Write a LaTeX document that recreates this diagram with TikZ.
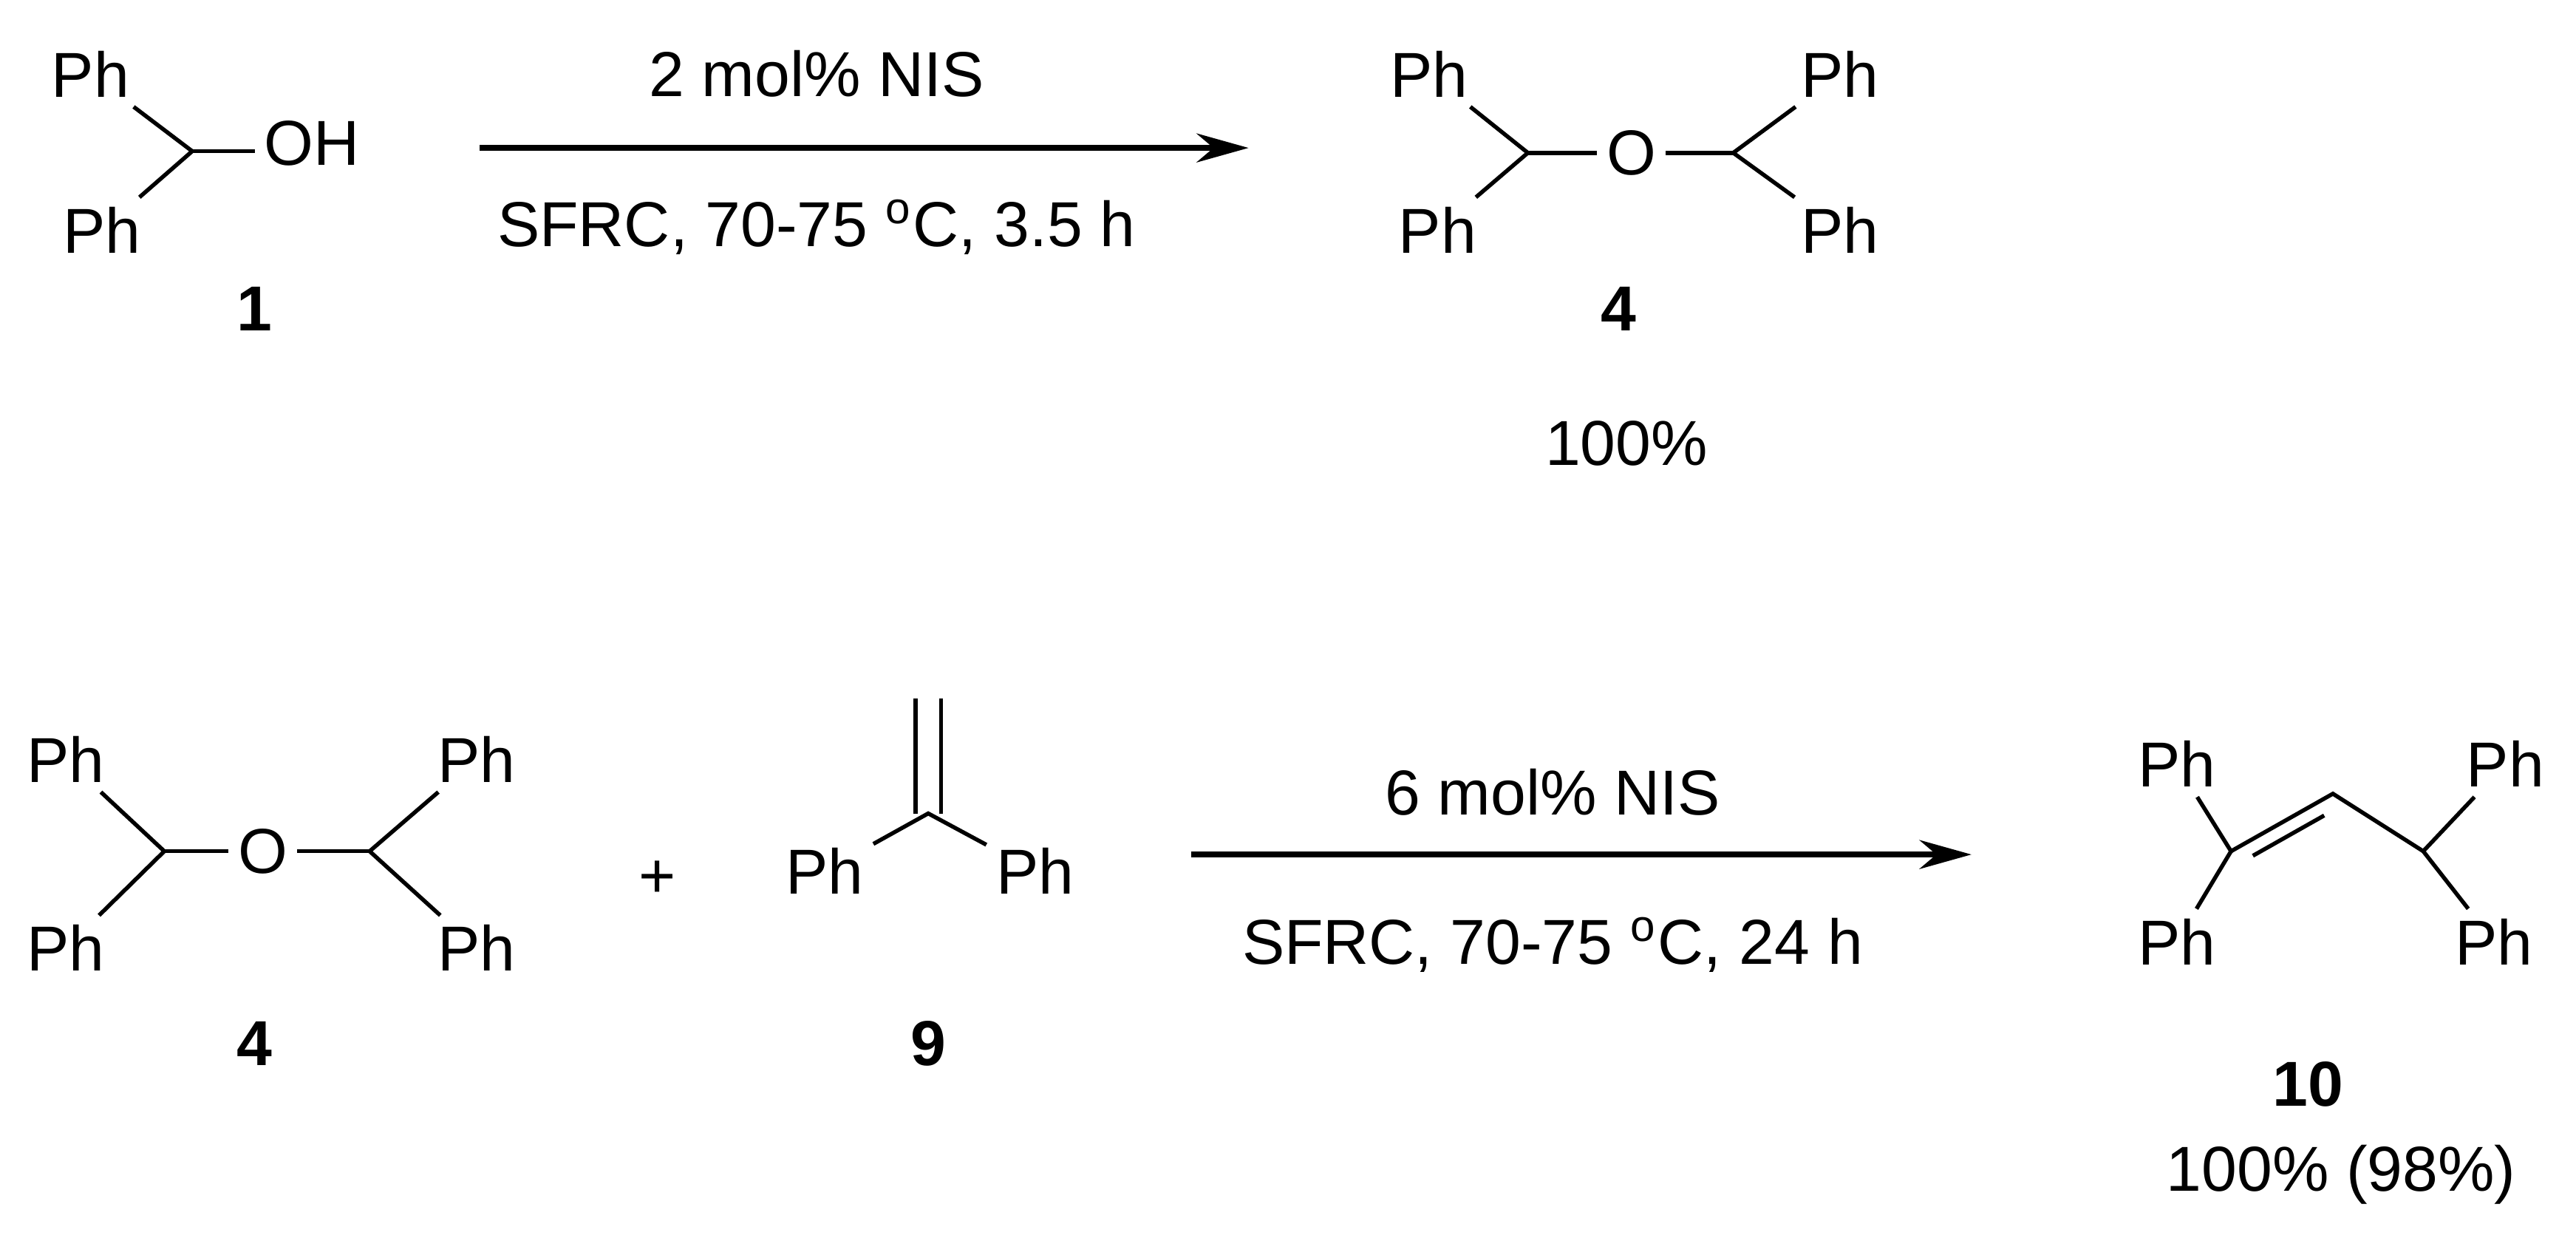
\documentclass[tikz,border=0pt]{standalone}
\usepackage{fontspec}
\setmainfont{Liberation Sans}
\usetikzlibrary{arrows.meta,calc}
\begin{document}
\begin{tikzpicture}[x=1cm,y=1cm,
  every node/.style={font=\fontsize{11pt}{13pt}\selectfont, inner sep=1.5pt},
  lbl/.style={font=\fontsize{11pt}{13pt}\selectfont\bfseries},
  bond/.style={line width=0.7pt},
  rxn/.style={line width=1pt,-{Stealth[length=9pt,width=5pt]}}]
\useasboundingbox (0,0) rectangle (15.68,-7.55);
% compound 1
\coordinate (c1) at (1.17,-0.92);
\node (p1a) at (0.55,-0.45) {Ph};
\node (p1b) at (0.62,-1.40) {Ph};
\node (oh) at (1.90,-0.87) {OH};
\draw[bond] (p1a) -- (c1) -- (p1b);
\draw[bond] (c1) -- (oh.west|-c1);
\node[lbl] (l1) at (1.55,-1.88) {1};
% arrow 1
\coordinate (a1s) at (2.92,-0.90); \coordinate (a1e) at (7.60,-0.90);
\draw[rxn] (a1s) -- (a1e);
\node (r1a) at (4.97,-0.45) {2 mol\% NIS};
\node (r1b) at (4.97,-1.38) {SFRC, 70-75 $^{\mathrm{o}}$C, 3.5 h};
% compound 4 top
\coordinate (c4a) at (9.30,-0.93);
\coordinate (c4b) at (10.55,-0.93);
\node (o4) at (9.93,-0.93) {O};
\node (p4a) at (8.70,-0.45) {Ph};
\node (p4b) at (8.75,-1.40) {Ph};
\node (p4c) at (11.20,-0.45) {Ph};
\node (p4d) at (11.20,-1.40) {Ph};
\draw[bond] (p4a) -- (c4a) -- (p4b);
\draw[bond] (c4a) -- (o4) -- (c4b);
\draw[bond] (p4c) -- (c4b) -- (p4d);
\node[lbl] (l4) at (9.85,-1.88) {4};
\node (y4) at (9.90,-2.70) {100\%};
% compound 4 bottom
\coordinate (d4a) at (1.00,-5.18);
\coordinate (d4b) at (2.25,-5.18);
\node (q4o) at (1.60,-5.18) {O};
\node (q4a) at (0.40,-4.62) {Ph};
\node (q4b) at (0.40,-5.77) {Ph};
\node (q4c) at (2.90,-4.62) {Ph};
\node (q4d) at (2.90,-5.77) {Ph};
\draw[bond] (q4a) -- (d4a) -- (q4b);
\draw[bond] (d4a) -- (q4o) -- (d4b);
\draw[bond] (q4c) -- (d4b) -- (q4d);
\node[lbl] (m4) at (1.55,-6.35) {4};
\node (plus) at (4.00,-5.35) {+};
% compound 9
\coordinate (c9) at (5.65,-4.95);
\coordinate (ch2) at (5.65,-4.25);
\node (p9a) at (5.02,-5.30) {Ph};
\node (p9b) at (6.30,-5.30) {Ph};
\draw[bond] ([xshift=-2.2pt]c9) -- ([xshift=-2.2pt]ch2);
\draw[bond] ([xshift=2.2pt]c9) -- ([xshift=2.2pt]ch2);
\draw[bond] (p9a) -- (c9) -- (p9b);
\node[lbl] (l9) at (5.65,-6.35) {9};
% arrow 2
\coordinate (a2s) at (7.25,-5.20); \coordinate (a2e) at (12.00,-5.20);
\draw[rxn] (a2s) -- (a2e);
\node (r2a) at (9.45,-4.82) {6 mol\% NIS};
\node (r2b) at (9.45,-5.75) {SFRC, 70-75 $^{\mathrm{o}}$C, 24 h};
% compound 10
\coordinate (e1) at (13.58,-5.18);
\coordinate (e2) at (14.20,-4.83);
\coordinate (e3) at (14.75,-5.18);
\node (s1) at (13.25,-4.65) {Ph};
\node (s2) at (13.25,-5.73) {Ph};
\node (s3) at (15.25,-4.65) {Ph};
\node (s4) at (15.18,-5.73) {Ph};
\draw[bond] (s1) -- (e1) -- (s2);
\draw[bond] (e1) -- (e2) -- (e3);
\draw[bond] ($(e1)!0.15!(e2)+(0.04,-0.08)$) -- ($(e1)!0.85!(e2)+(0.04,-0.08)$);
\draw[bond] (s3) -- (e3) -- (s4);
\node[lbl] (l10) at (14.05,-6.60) {10};
\node (y10) at (14.25,-7.15) {100\% (98\%)};
\end{tikzpicture}
\end{document}
